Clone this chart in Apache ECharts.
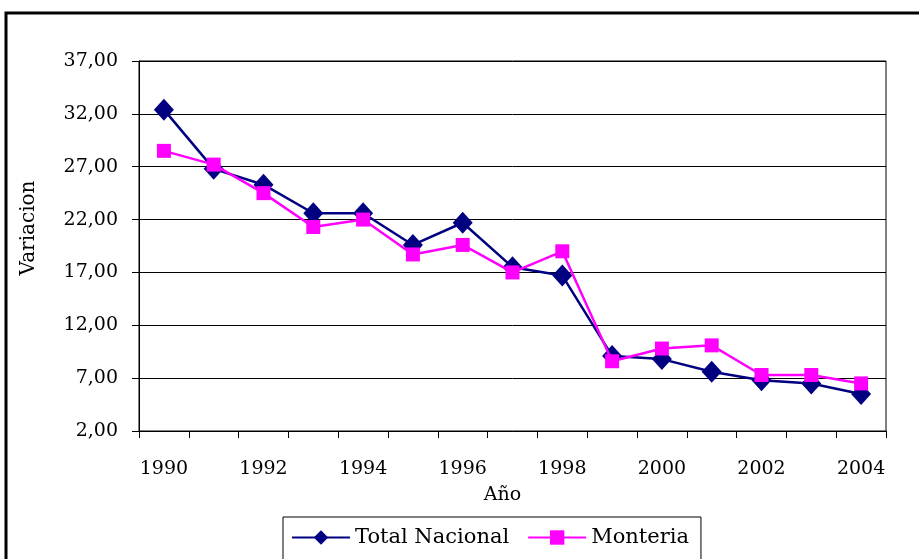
<!DOCTYPE html>
<html>
<head>
<meta charset="utf-8">
<script src="https://cdn.jsdelivr.net/npm/echarts@6/dist/echarts.min.js"></script>
<style>
  html, body { margin: 0; padding: 0; background: #fff; }
  #chart { width: 919px; height: 559px; }
</style>
</head>
<body>
<div id="chart"></div>
<script>
// years on the x axis
const years = ['1990', '1991', '1992', '1993', '1994', '1995', '1996', '1997',
  '1998', '1999', '2000', '2001', '2002', '2003', '2004']
// values
const totalNacional = [32.4, 26.8, 25.3, 22.6, 22.6, 19.6, 21.7, 17.5, 16.7, 9.1, 8.8, 7.6, 6.8, 6.5, 5.5]
const monteria = [28.5, 27.2, 24.5, 21.3, 22.0, 18.7, 19.6, 17.0, 19.0, 8.6, 9.8, 10.1, 7.3, 7.3, 6.5]
const yMin = 2
const yMax = 37
const yStep = 5

const font = '"DejaVu Serif", serif'

const chart = echarts.init(document.getElementById('chart'))
chart.setOption({
  animation: false,
  backgroundColor: '#fff',
  graphic: [{
    type: 'rect',
    shape: { x: 6, y: 13, width: 1000, height: 1000 },
    style: { fill: 'none', stroke: '#000', lineWidth: 3 },
    silent: true
  }],
  grid: {
    left: 139,
    right: 33,
    top: 61,
    bottom: 128,
    show: true,
    borderColor: '#000',
    borderWidth: 1
  },
  legend: {
    left: 283,
    top: 517,
    padding: [10, 12, 30, 8],
    borderColor: '#000',
    borderWidth: 1,
    itemWidth: 58,
    itemHeight: 18,
    itemGap: 18,
    textStyle: { fontFamily: font, fontSize: 21, color: '#000' },
    data: ['Total Nacional', 'Monteria']
  },
  xAxis: {
    type: 'category',
    data: years,
    boundaryGap: true,
    name: 'Año',
    nameLocation: 'middle',
    nameGap: 55,
    nameTextStyle: { fontFamily: font, fontSize: 19, color: '#000', padding: [0, 20, 0, 0] },
    axisLine: { lineStyle: { color: '#000', width: 1 } },
    axisTick: { show: true, interval: 0, length: 7, lineStyle: { color: '#000' } },
    axisLabel: { interval: 1, fontFamily: font, fontSize: 19, color: '#000', margin: 29 }
  },
  yAxis: {
    type: 'value',
    min: yMin,
    max: yMax,
    interval: yStep,
    name: 'Variacion',
    nameLocation: 'middle',
    nameGap: 100,
    nameTextStyle: { fontFamily: font, fontSize: 20, color: '#000', padding: [0, 0, 0, 36] },
    axisLine: { show: true, lineStyle: { color: '#000' } },
    axisTick: { show: true, length: 7, lineStyle: { color: '#000' } },
    axisLabel: {
      fontFamily: font, fontSize: 19, color: '#000', margin: 21,
      formatter: v => v.toFixed(2).replace('.', ',')
    },
    splitLine: { show: true, lineStyle: { color: '#000', width: 1 } }
  },
  series: [
    {
      name: 'Total Nacional',
      type: 'line',
      data: totalNacional,
      symbol: 'diamond',
      symbolSize: [20, 22],
      color: '#000080',
      lineStyle: { width: 2.5, color: '#000080' },
      itemStyle: { color: '#000080' },
      z: 3
    },
    {
      name: 'Monteria',
      type: 'line',
      data: monteria,
      symbol: 'rect',
      symbolSize: 14,
      color: '#ff00ff',
      lineStyle: { width: 2.5, color: '#ff00ff' },
      itemStyle: { color: '#ff00ff' },
      z: 4
    }
  ]
})
</script>
</body>
</html>
